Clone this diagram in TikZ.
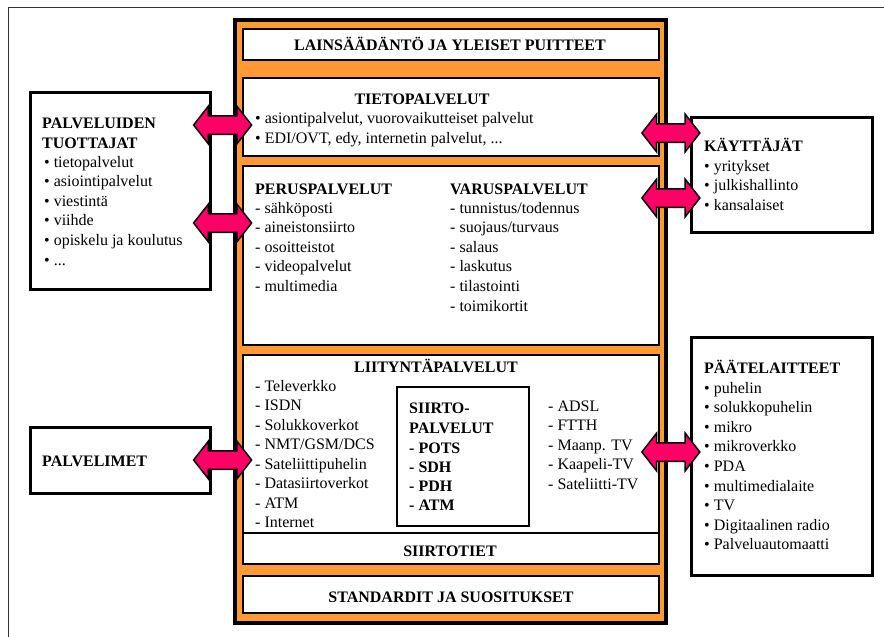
\documentclass[tikz,border=0pt]{standalone}
\usepackage{fontspec}
\setmainfont{Liberation Serif}
\usetikzlibrary{shapes.arrows}
\usetikzlibrary{positioning}
\definecolor{frameorange}{RGB}{255,153,51}
\definecolor{arrowpink}{RGB}{255,0,102}
\tikzset{
    outerline/.style = {draw=black!80, line width=1pt},
    framebox/.style = {rectangle, draw=black, line width=3.5pt, fill=frameorange, inner sep=0pt},
    layerbox/.style = {rectangle, draw=black, line width=2.5pt, fill=white, inner sep=0pt},
    sidebox/.style = {rectangle, draw=black, line width=3pt, fill=white, inner sep=0pt},
    txt/.style = {anchor=base west, inner sep=0pt, font=\fontsize{16}{19.6}\selectfont},
    bold/.style = {txt, font=\fontsize{16}{19.6}\selectfont\bfseries},
    ctitle/.style = {bold, anchor=base},
    fatarrow/.style = {double arrow, draw=black, line width=1.5pt, fill=arrowpink,
        minimum height=58pt, inner xsep=0pt, inner ysep=8.5pt, double arrow head extend=9.5pt,
        double arrow tip angle=104, xshift=-4pt}
}
\begin{document}
\begin{tikzpicture}[x=1pt,y=-1pt]
\useasboundingbox (0,0) rectangle (884,637);
\draw[outerline] (8,7) rectangle (900,660);
%
% side boxes
\node[sidebox, minimum width=180pt, minimum height=197pt] at (120,190.5) (tuot) {};
\node[sidebox, minimum width=180pt, minimum height=66pt] at (120,460) (palv) {};
\node[sidebox, minimum width=181pt, minimum height=115pt] at (781.5,174.5) (kayt) {};
\node[sidebox, minimum width=181pt, minimum height=238pt] at (781.5,456) (paate) {};
%
% layers
\node[framebox, minimum width=431pt, minimum height=603pt] at (450.5,321.5) (frame) {};
\node[layerbox, minimum width=416pt, minimum height=31pt] at (451,44.5) (laki) {};
\node[layerbox, minimum width=416pt, minimum height=78pt] at (451,117) (tieto) {};
\node[layerbox, minimum width=416pt, minimum height=179pt] at (451,255.5) (peru) {};
\node[layerbox, minimum width=416pt, minimum height=209pt] at (451,459.5) (liit) {};
\node[layerbox, minimum width=416pt, minimum height=31pt] at (451,548.5) (tiet) {};
\node[layerbox, minimum width=416pt, minimum height=37pt] at (451,594.5) (stand) {};
\node[layerbox, minimum width=132pt, minimum height=139pt] at (463,456.5) (siirto) {};
%
% texts
\node[ctitle] at (450,50) (lakit) {LAINSÄÄDÄNTÖ JA YLEISET PUITTEET};
\node[ctitle] at (422,104) (tietot) {TIETOPALVELUT};
\node[txt] at (255,123) (tieto1) {• asiontipalvelut, vuorovaikutteiset palvelut};
\node[txt] at (255,143) (tieto2) {• EDI/OVT, edy, internetin palvelut, ...};
\node[bold] at (255,194) (perut) {PERUSPALVELUT};
\foreach \t [count=\i from 0] in {sähköposti,aineistonsiirto,osoitteistot,videopalvelut,multimedia}
  \node[txt] at (255,{213+19.6*\i}) (peru\i) {- \t};
\node[bold] at (450,194) (varut) {VARUSPALVELUT};
\foreach \t [count=\i from 0] in {tunnistus/todennus,suojaus/turvaus,salaus,laskutus,tilastointi,toimikortit}
  \node[txt] at (450,{213+19.6*\i}) (varu\i) {- \t};
\node[ctitle] at (436,372) (liitt) {LIITYNTÄPALVELUT};
\foreach \t [count=\i from 0] in {Televerkko,ISDN,Solukkoverkot,NMT/GSM/DCS,Sateliittipuhelin,Datasiirtoverkot,ATM,Internet}
  \node[txt] at (255,{391+19.57*\i}) (liit\i) {- \t};
\foreach \t [count=\i from 0] in {ADSL,FTTH,Maanp. TV,Kaapeli-TV,Sateliitti-TV}
  \node[txt] at (548,{411+19.5*\i}) (verk\i) {- \t};
\node[bold] at (409,413) (siirtot1) {SIIRTO-};
\node[bold] at (409,433) (siirtot2) {PALVELUT};
\foreach \t [count=\i from 0] in {POTS,SDH,PDH,ATM}
  \node[bold] at (409,{453+19.3*\i}) (siirto\i) {- \t};
\node[ctitle] at (450,556) (tiett) {SIIRTOTIET};
\node[ctitle] at (451,602) (standt) {STANDARDIT JA SUOSITUKSET};
%
\node[bold] at (42,128) (tuott1) {PALVELUIDEN};
\node[bold] at (42,148) (tuott2) {TUOTTAJAT};
\foreach \t [count=\i from 0] in {tietopalvelut,asiointipalvelut,viestintä,viihde,opiskelu ja koulutus}
  \node[txt] at (44,{167+19.6*\i}) (tuot\i) {• \t};
\node[txt] at (44,265) (tuot5) {• ...};
\node[bold] at (42,466) (palvt) {PALVELIMET};
\node[bold] at (704,151) (kaytt) {KÄYTTÄJÄT};
\foreach \t [count=\i from 0] in {yritykset,julkishallinto,kansalaiset}
  \node[txt] at (704,{171+19.6*\i}) (kayt\i) {• \t};
\node[bold] at (704,373) (paatet) {PÄÄTELAITTEET};
\foreach \t [count=\i from 0] in {puhelin,solukkopuhelin,mikro,mikroverkko,PDA,multimedialaite,TV,Digitaalinen radio,Palveluautomaatti}
  \node[txt] at (704,{393+19.6*\i}) (paate\i) {• \t};
%
% arrows
\coordinate (r1) at (0,125);
\coordinate (r2) at (0,223);
\coordinate (r3) at (0,460);
\coordinate (r4) at (0,133);
\coordinate (r5) at (0,198);
\coordinate (r6) at (0,452);
\path (tuot.east |- r1) -- (tieto.west |- r1) node[fatarrow, midway] (a1) {};
\path (tuot.east |- r2) -- (peru.west |- r2) node[fatarrow, midway] (a2) {};
\path (palv.east |- r3) -- (liit.west |- r3) node[fatarrow, midway] (a3) {};
\path (tieto.east |- r4) -- (kayt.west |- r4) node[fatarrow, midway] (a4) {};
\path (peru.east |- r5) -- (kayt.west |- r5) node[fatarrow, midway] (a5) {};
\path (liit.east |- r6) -- (paate.west |- r6) node[fatarrow, midway] (a6) {};
\end{tikzpicture}
\end{document}
